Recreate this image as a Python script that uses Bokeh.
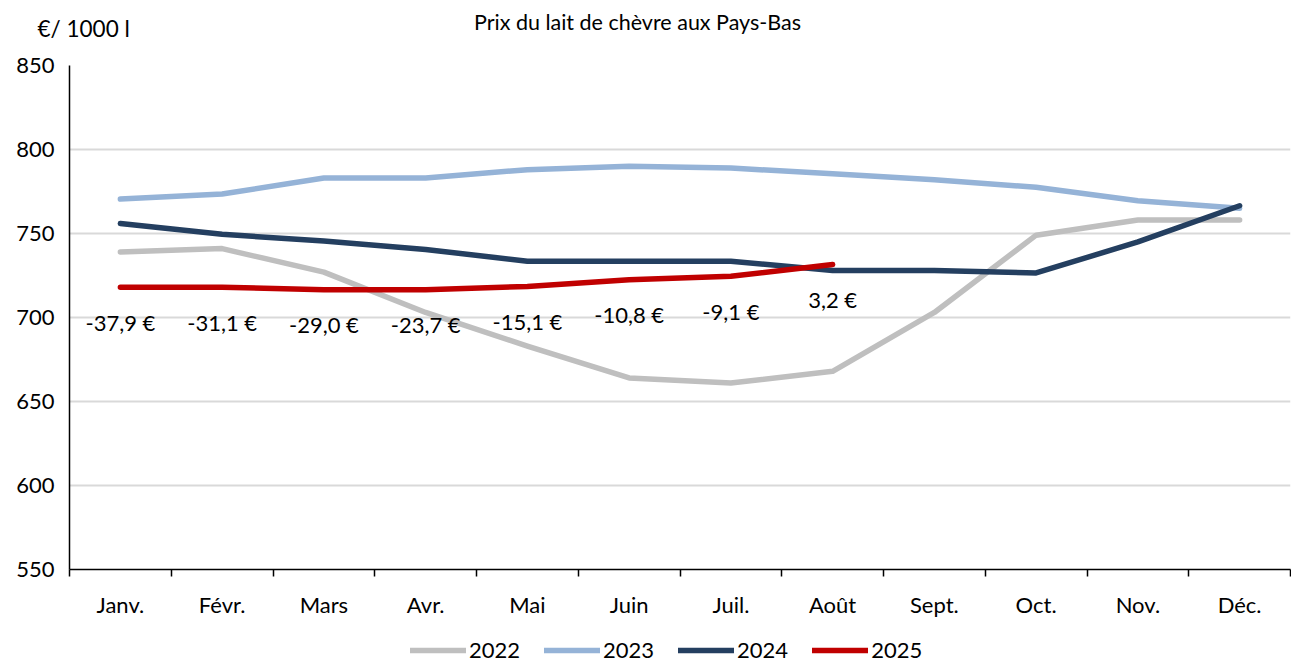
from bokeh.plotting import figure
from bokeh.layouts import column, row
from bokeh.models import (Range1d, FixedTicker, Legend, LegendItem, Label,
                          ColumnDataSource)
from bokeh.core.properties import value
from bokeh.embed import file_html
from bokeh.resources import INLINE

# ---------------- data ----------------
months = ["Janv.", "Févr.", "Mars", "Avr.", "Mai", "Juin", "Juil.", "Août",
          "Sept.", "Oct.", "Nov.", "Déc."]
y2022 = [739, 741, 727, 703, 683, 664, 661, 668, 703, 749, 758, 758]
y2023 = [770.5, 773.5, 783, 783, 788, 790, 789, 785.5, 782, 777.5, 769.5, 765]
y2024 = [756, 749.5, 745.5, 740.5, 733.5, 733.5, 733.5, 728, 728, 726.5, 745, 766.5]
y2025 = [718, 718, 716.5, 716.5, 718.5, 722.5, 724.5, 731.5]
diff_2025_2024 = [-37.9, -31.1, -29.0, -23.7, -15.1, -10.8, -9.1, 3.2]
years = ["2022", "2023", "2024", "2025"]
colors = ["#bfbfbf", "#95b3d7", "#243f60", "#c00000"]
y_ticks = [550, 600, 650, 700, 750, 800, 850]
title_text = "Prix du lait de chèvre aux Pays-Bas"
unit_text = "€/ 1000 l"

FONT = "Lato"
W = 1291
series = [y2022, y2023, y2024, y2025]


def bare(h):
    f = figure(width=W, height=h, output_backend="svg", toolbar_location=None,
               x_range=Range1d(0, W), y_range=Range1d(0, h),
               min_border_left=0, min_border_right=0, min_border_top=0,
               min_border_bottom=0)
    f.axis.visible = False
    f.grid.visible = False
    f.outline_line_color = None
    f.background_fill_color = "white"
    f.border_fill_color = "white"
    return f


# ---------------- header (title + unit) ----------------
head = bare(45)
head.add_layout(Label(x=637, y=24, text=title_text, text_align="center",
                      text_baseline="middle", text_font=FONT,
                      text_font_size="21.5px", text_color="black"))
head.add_layout(Label(x=37, y=17, text=unit_text, text_align="left",
                      text_baseline="middle", text_font=FONT,
                      text_font_size="22.5px", text_color="black"))

# ---------------- main chart ----------------
xs = [i + 0.5 for i in range(len(months))]
bounds = list(range(len(months) + 1))

p = figure(width=W, height=575, output_backend="svg", toolbar_location=None,
           x_range=Range1d(0, len(months)), y_range=Range1d(550, 850),
           min_border_left=69, min_border_right=1, min_border_top=20,
           min_border_bottom=49)
p.outline_line_color = None
p.background_fill_color = "white"
p.border_fill_color = "white"

p.xgrid.grid_line_color = None
p.ygrid.grid_line_color = "#d9d9d9"
p.ygrid.grid_line_width = 2
p.ygrid.ticker = FixedTicker(ticks=y_ticks)

p.yaxis.ticker = FixedTicker(ticks=y_ticks)
p.yaxis.major_tick_out = 0
p.yaxis.major_tick_in = 0
p.yaxis.minor_tick_out = 0
p.yaxis.minor_tick_in = 0
p.yaxis.axis_line_color = "black"
p.yaxis.axis_line_width = 1.5
p.yaxis.major_label_standoff = 15
p.yaxis.major_label_text_font = FONT
p.yaxis.major_label_text_font_size = "22px"
p.yaxis.major_label_text_color = "black"

p.xaxis.ticker = FixedTicker(ticks=xs, minor_ticks=bounds)
p.xaxis.major_label_overrides = {x: m for x, m in zip(xs, months)}
p.xaxis.major_tick_out = 0
p.xaxis.major_tick_in = 0
p.xaxis.minor_tick_out = 7
p.xaxis.minor_tick_in = 0
p.xaxis.minor_tick_line_color = "black"
p.xaxis.minor_tick_line_width = 1.5
p.xaxis.axis_line_color = "black"
p.xaxis.axis_line_width = 1.5
p.xaxis.major_label_standoff = 14
p.xaxis.major_label_text_font = FONT
p.xaxis.major_label_text_font_size = "22px"
p.xaxis.major_label_text_color = "black"

for ys, c in zip(series, colors):
    p.line(xs[:len(ys)], ys, line_color=c, line_width=5.5,
           line_cap="round", line_join="round")

labels = [("{:.1f}".format(d)).replace(".", ",") + " €" for d in diff_2025_2024]
src = ColumnDataSource(dict(x=xs[:len(y2025)], y=y2025, t=labels))
p.text(x="x", y="y", text="t", source=src, y_offset=35,
       text_align="center", text_baseline="middle",
       text_font=value(FONT), text_font_size="22px", text_color="black")

# ---------------- legend strip ----------------
leg = bare(43)
items = []
for yr, ys, c in zip(years, series, colors):
    # same series, outside this strip's visible range: only the legend sample shows
    r = leg.line(xs[:len(ys)], ys, line_color=c, line_width=5.5, line_cap="round")
    items.append(LegendItem(label=yr, renderers=[r]))
legend = Legend(items=items, orientation="horizontal", location=(410, 0),
                border_line_alpha=0, background_fill_alpha=0,
                glyph_width=56, glyph_height=20, label_standoff=3, spacing=24,
                padding=0, margin=0,
                label_text_font=FONT, label_text_font_size="22px",
                label_text_color="black")
leg.add_layout(legend, "center")

layout = column(row(head), p, row(leg), spacing=0)
open("out.html", "w").write(file_html(layout, INLINE))
